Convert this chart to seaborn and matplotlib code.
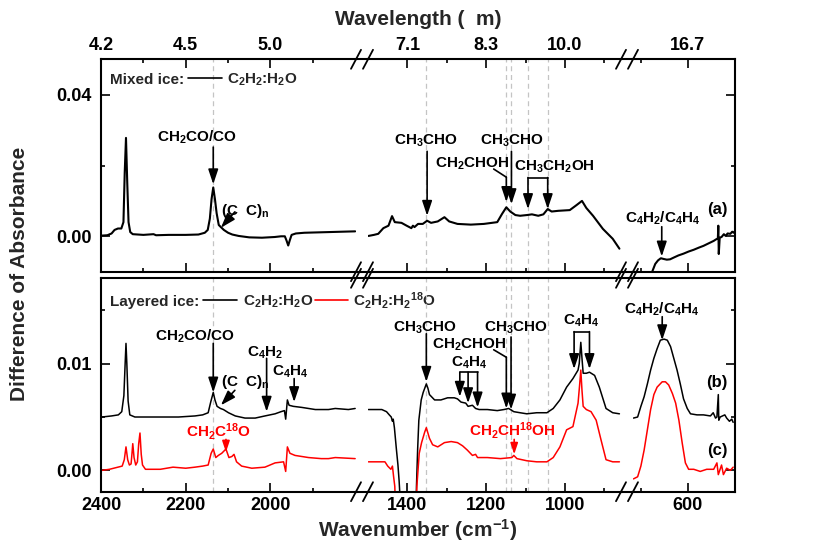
import matplotlib
matplotlib.use("Agg")
import matplotlib.pyplot as plt
import seaborn as sns
from matplotlib.ticker import FixedLocator, FuncFormatter

# ---------------- data: wavenumber (cm-1) and difference of absorbance ----------------
# (a) mixed ice C2H2:H2O  (three x-axis segments)
a_wn_1 = [2398, 2385, 2375, 2368, 2360, 2352, 2347, 2344, 2341, 2338, 2335, 2331, 2325, 2300, 2276, 2270,
          2240, 2200, 2170, 2155, 2148, 2143, 2139, 2135, 2131, 2127, 2122, 2117, 2110, 2100, 2090, 2075,
          2050, 2020, 1990, 1975, 1966, 1962, 1958, 1954, 1950, 1940, 1920, 1890, 1860, 1830, 1800]
a_ab_1 = [0.0002, 0.0003, 0.0008, 0.0018, 0.0022, 0.0022, 0.0040, 0.0180, 0.0278, 0.0150, 0.0040, 0.0012,
          0.0006, 0.0004, 0.0006, 0.0003, 0.0004, 0.0004, 0.0005, 0.0010, 0.0018, 0.0050, 0.0105, 0.0138,
          0.0105, 0.0065, 0.0032, 0.0026, 0.0018, 0.0010, 0.0005, 0.0001, -0.0003, -0.0004, -0.0002, 0.0000,
          0.0000, -0.0012, -0.0026, -0.0010, 0.0004, 0.0008, 0.0010, 0.0011, 0.0012, 0.0013, 0.0014]
a_wn_2 = [1499, 1485, 1474, 1461, 1448, 1439, 1432, 1415, 1402, 1390, 1386, 1382, 1373, 1361, 1350, 1340,
          1323, 1306, 1294, 1273, 1239, 1206, 1172, 1160, 1149, 1139, 1126, 1114, 1097, 1084, 1068, 1055,
          1044, 1034, 1017, 988, 971, 957, 946, 929, 904, 879, 862]
a_ab_2 = [0.0001, 0.0004, 0.0007, 0.0023, 0.0030, 0.0057, 0.0040, 0.0038, 0.0030, 0.0023, 0.0030, 0.0026,
          0.0035, 0.0035, 0.0044, 0.0038, 0.0042, 0.0054, 0.0042, 0.0035, 0.0033, 0.0035, 0.0040, 0.0063,
          0.0082, 0.0070, 0.0060, 0.0058, 0.0060, 0.0062, 0.0058, 0.0062, 0.0077, 0.0070, 0.0072, 0.0074,
          0.0088, 0.0100, 0.0080, 0.0058, 0.0021, -0.0007, -0.0035]
a_wn_3 = [676, 670, 664, 658, 652, 645, 638, 630, 620, 609, 598, 587, 576, 566, 555, 544, 538, 535, 534,
          533, 531, 527, 522, 518, 514, 508, 504, 501, 498]
a_ab_3 = [-0.0098, -0.0078, -0.0068, -0.0062, -0.0064, -0.0066, -0.0065, -0.0060, -0.0054, -0.0049,
          -0.0043, -0.0038, -0.0032, -0.0027, -0.0020, -0.0013, -0.0008, -0.0006, 0.0030, -0.0050, -0.0004,
          -0.0002, 0.0006, 0.0001, 0.0008, 0.0007, 0.0013, 0.0010, 0.0015]

# (b) layered ice C2H2:H2O
b_wn_1 = [2398, 2375, 2359, 2351, 2346, 2343, 2341, 2339, 2336, 2332, 2320, 2296, 2257, 2217, 2178, 2160,
          2147, 2141, 2135, 2131, 2126, 2122, 2118, 2111, 2099, 2083, 2060, 2036, 2013, 1989, 1975, 1967,
          1964, 1960, 1956, 1946, 1926, 1894, 1863, 1847, 1816, 1800]
b_ab_1 = [0.0050, 0.0051, 0.0052, 0.0055, 0.0070, 0.0100, 0.0119, 0.0100, 0.0065, 0.0052, 0.0050, 0.0050,
          0.0050, 0.0050, 0.0051, 0.0052, 0.0054, 0.0064, 0.0073, 0.0066, 0.0060, 0.0059, 0.0058, 0.0057,
          0.0054, 0.0051, 0.0049, 0.0049, 0.0051, 0.0053, 0.0055, 0.0056, 0.0048, 0.0066, 0.0061, 0.0060,
          0.0059, 0.0057, 0.0057, 0.0058, 0.0057, 0.0058]
b_wn_2 = [1499, 1480, 1465, 1453, 1446, 1441, 1438, 1436, 1433, 1428, 1424, 1421, 1418, 1414, 1380, 1377,
          1374, 1371, 1365, 1360, 1356, 1352, 1348, 1344, 1331, 1315, 1298, 1281, 1273, 1264, 1252, 1246,
          1235, 1227, 1218, 1197, 1172, 1155, 1143, 1130, 1114, 1097, 1072, 1046, 1030, 1013, 996, 980,
          967, 964, 960, 957, 954, 946, 938, 925, 913, 896, 879, 862]
b_ab_2 = [0.0057, 0.0057, 0.0057, 0.0055, 0.0052, 0.0050, 0.0046, 0.0048, 0.0040, 0.0020, 0.0005, -0.0010,
          -0.0030, -0.0060, -0.0060, -0.0015, 0.0020, 0.0047, 0.0066, 0.0073, 0.0077, 0.0081, 0.0077, 0.0071,
          0.0066, 0.0066, 0.0068, 0.0068, 0.0067, 0.0064, 0.0063, 0.0060, 0.0061, 0.0058, 0.0057, 0.0057,
          0.0056, 0.0057, 0.0058, 0.0055, 0.0054, 0.0053, 0.0054, 0.0054, 0.0058, 0.0066, 0.0078, 0.0086,
          0.0094, 0.0100, 0.0120, 0.0105, 0.0091, 0.0091, 0.0092, 0.0089, 0.0078, 0.0058, 0.0054, 0.0053]
b_wn_3 = [717, 708, 701, 694, 687, 680, 673, 666, 659, 651, 644, 637, 630, 623, 616, 609, 601, 594, 580,
          566, 551, 545, 540, 537, 534, 533, 530, 520, 516, 510, 505, 502]
b_ab_3 = [0.0049, 0.0050, 0.0060, 0.0069, 0.0081, 0.0094, 0.0105, 0.0114, 0.0122, 0.0123, 0.0122, 0.0116,
          0.0105, 0.0094, 0.0081, 0.0067, 0.0058, 0.0053, 0.0052, 0.0052, 0.0051, 0.0054, 0.0049, 0.0050,
          0.0071, 0.0047, 0.0050, 0.0052, 0.0049, 0.0046, 0.0048, 0.0045]

# (c) layered ice C2H2:H2(18)O
c_wn_1 = [2398, 2380, 2360, 2350, 2345, 2341, 2337, 2333, 2329, 2327, 2325, 2322, 2318, 2314, 2311, 2308,
          2305, 2302, 2295, 2260, 2230, 2200, 2178, 2160, 2147, 2140, 2135, 2129, 2123, 2115, 2105, 2098,
          2091, 2086, 2080, 2068, 2044, 2013, 1989, 1969, 1964, 1960, 1954, 1942, 1910, 1880, 1863, 1847, 1800]
c_ab_1 = [0.0000, 0.0001, 0.0003, 0.0004, 0.0010, 0.0022, 0.0010, 0.0005, 0.0006, 0.0015, 0.0025, 0.0012,
          0.0005, 0.0008, 0.0025, 0.0035, 0.0015, 0.0005, 0.0001, 0.0001, 0.0003, 0.0002, 0.0003, 0.0004,
          0.0005, 0.0016, 0.0020, 0.0012, 0.0014, 0.0016, 0.0020, 0.0012, 0.0013, 0.0015, 0.0008, 0.0004,
          0.0002, 0.0003, 0.0007, 0.0008, -0.0001, 0.0022, 0.0016, 0.0014, 0.0012, 0.0011, 0.0011, 0.0012, 0.0011]
c_wn_2 = [1499, 1457, 1450, 1442, 1438, 1435, 1432, 1428, 1380, 1376, 1370, 1364, 1356, 1352, 1344, 1336,
          1323, 1306, 1289, 1273, 1260, 1248, 1235, 1227, 1222, 1197, 1164, 1135, 1130, 1122, 1097, 1072,
          1046, 1030, 1013, 996, 980, 967, 963, 960, 957, 954, 946, 934, 921, 909, 896, 879, 862]
c_ab_2 = [0.0008, 0.0008, 0.0004, 0.0001, 0.0004, -0.0006, -0.0015, -0.0060, -0.0060, -0.0015, 0.0016,
          0.0026, 0.0036, 0.0040, 0.0030, 0.0024, 0.0022, 0.0026, 0.0027, 0.0026, 0.0023, 0.0019, 0.0014,
          0.0015, 0.0012, 0.0012, 0.0011, 0.0012, 0.0014, 0.0011, 0.0009, 0.0008, 0.0008, 0.0012, 0.0022,
          0.0038, 0.0041, 0.0063, 0.0080, 0.0094, 0.0075, 0.0060, 0.0057, 0.0055, 0.0047, 0.0029, 0.0010,
          0.0008, 0.0008]
c_wn_3 = [717, 708, 701, 694, 687, 680, 673, 666, 655, 648, 641, 633, 626, 619, 612, 605, 598, 587, 573,
          559, 544, 537, 534, 527, 523, 516, 508, 502]
c_ab_3 = [-0.0008, -0.0006, 0.0004, 0.0019, 0.0038, 0.0057, 0.0071, 0.0078, 0.0083, 0.0083, 0.0080, 0.0072,
          0.0063, 0.0047, 0.0026, 0.0007, 0.0001, 0.0001, -0.0001, 0.0001, 0.0001, 0.0007, -0.0004, 0.0005,
          -0.0004, 0.0002, 0.0000, 0.0003]

# marker lines (cm-1)
dash_seg1 = [2135]
dash_seg2 = [1352, 1149, 1137, 1093, 1044]

# axis tick values
x_major = [[2400, 2200, 2000], [1400, 1200, 1000], [600]]
x_minor = [[2300, 2100, 1900], [1300, 1100, 900], [700]]
y_major = [[0.0, 0.04], [0.0, 0.01]]
y_minor = [[0.02], [0.005, 0.015]]

# ---------------- style ----------------
sns.set_theme(style="ticks")
plt.rcParams.update({
    "font.family": ["Liberation Sans", "DejaVu Sans"],
    "font.weight": "bold",
    "mathtext.default": "regular",
    "axes.linewidth": 1.5,
    "axes.edgecolor": "black",
    "xtick.color": "black",
    "ytick.color": "black",
    "xtick.labelsize": 13,
    "ytick.labelsize": 13,
})

W, H = 830, 548
fig = plt.figure(figsize=(W / 100, H / 100), dpi=100)

SEG_PX = [(101, 356), (368, 621), (633, 735)]
PANEL_PX = [(59.3, 271.7), (278.3, 491.7)]
XLIMS = [(2400, 1798), (1500, 858), (718, 498)]
YLIMS = [(-0.01, 0.05), (-0.002, 0.018)]

axs = [[None] * 3 for _ in range(2)]
for p in range(2):
    for s in range(3):
        x0, x1 = SEG_PX[s]
        y0, y1 = PANEL_PX[p]
        ax = fig.add_axes([x0 / W, 1 - y1 / H, (x1 - x0) / W, (y1 - y0) / H])
        ax.set_facecolor("none")
        axs[p][s] = ax

curves = [
    [[(a_wn_1, a_ab_1, "black", 1.5)], [(a_wn_2, a_ab_2, "black", 1.5)], [(a_wn_3, a_ab_3, "black", 1.5)]],
    [[(b_wn_1, b_ab_1, "black", 1.1), (c_wn_1, c_ab_1, "red", 1.1)],
     [(b_wn_2, b_ab_2, "black", 1.1), (c_wn_2, c_ab_2, "red", 1.1)],
     [(b_wn_3, b_ab_3, "black", 1.1), (c_wn_3, c_ab_3, "red", 1.1)]],
]

for p in range(2):
    for s in range(3):
        ax = axs[p][s]
        for dx in (dash_seg1 if s == 0 else dash_seg2 if s == 1 else []):
            ax.axvline(dx, color="#c4c4c4", lw=0.9, ls=(0, (4, 3)), zorder=0)
        for wn, ab, col, lw in curves[p][s]:
            sns.lineplot(x=wn, y=ab, ax=ax, color=col, linewidth=lw, legend=False)
        ax.set_xlim(*XLIMS[s])
        ax.set_ylim(*YLIMS[p])
        ax.set_xlabel("")
        ax.set_ylabel("")
        ax.grid(False)
        for side in ("top", "bottom", "left", "right"):
            ax.spines[side].set_linewidth(1.5)
        ax.spines["top"].set_visible(True)
        ax.spines["bottom"].set_visible(True)
        ax.spines["left"].set_visible(s == 0)
        ax.spines["right"].set_visible(s == 2)
        ax.xaxis.set_major_locator(FixedLocator(x_major[s]))
        ax.xaxis.set_minor_locator(FixedLocator(x_minor[s]))
        ax.yaxis.set_major_locator(FixedLocator(y_major[p]))
        ax.yaxis.set_minor_locator(FixedLocator(y_minor[p]))
        if p == 0:
            ax.xaxis.set_major_formatter(FuncFormatter(lambda v, pos: f"{10000 / v:.1f}"))
        else:
            ax.xaxis.set_major_formatter(FuncFormatter(lambda v, pos: f"{v:.0f}"))
        ax.yaxis.set_major_formatter(FuncFormatter(lambda v, pos: f"{v:.2f}"))
        ax.tick_params(axis="both", which="both", direction="in", width=1.2, pad=4)
        ax.tick_params(axis="both", which="major", length=6.5)
        ax.tick_params(axis="both", which="minor", length=3.2)
        ax.tick_params(axis="x", which="both", bottom=True, top=(p == 0),
                       labelbottom=(p == 1), labeltop=(p == 0))
        ax.tick_params(axis="y", which="both", left=(s == 0), right=(s == 2),
                       labelleft=(s == 0), labelright=False, pad=7)
        for lab in ax.get_xticklabels() + ax.get_yticklabels():
            lab.set_fontweight("bold")


# axis break marks, with the frame line continuing through the break
def slash(ax, xf, yf, wpx, hpx):
    dx, dy = 5 / wpx, 9.5 / hpx
    ax.plot([xf - dx, xf + dx], [yf - dy, yf + dy], transform=ax.transAxes,
            color="black", lw=1.3, clip_on=False, zorder=5)


for p in range(2):
    hpx = PANEL_PX[p][1] - PANEL_PX[p][0]
    for s in range(3):
        wpx = SEG_PX[s][1] - SEG_PX[s][0]
        if s < 2:
            gap = (SEG_PX[s + 1][0] - SEG_PX[s][1]) / wpx
            for yf in (0.0, 1.0):
                axs[p][s].plot([1.0, 1.0 + gap], [yf, yf], transform=axs[p][s].transAxes,
                               color="black", lw=1.5, clip_on=False, solid_capstyle="butt")
        ends = []
        if s < 2:
            ends.append(1.0)
        if s > 0:
            ends.append(0.0)
        for xf in ends:
            for yf in (0.0, 1.0):
                slash(axs[p][s], xf, yf, wpx, hpx)

FS = 11
AST = "-|>,head_length=0.6,head_width=0.2"


def arrow(ax, x0, y0, x1, y1, color="black", ms=15, lw=1.2):
    ax.annotate("", xy=(x1, y1), xytext=(x0, y0), annotation_clip=False,
                arrowprops=dict(arrowstyle=AST, color=color, lw=lw, shrinkA=0, shrinkB=0,
                                mutation_scale=ms))


def label(ax, x, y, s, color="black", ha="center", va="baseline", fs=FS):
    ax.text(x, y, s, color=color, ha=ha, va=va, fontsize=fs, fontweight="bold", clip_on=False)


# ---------------- top panel annotations ----------------
t1, t2, t3 = axs[0]
t1.text(0.035, 0.886, "Mixed ice:", transform=t1.transAxes, ha="left", va="baseline", fontsize=FS, fontweight="bold")
t1.plot([0.341, 0.475], [0.912, 0.912], transform=t1.transAxes, color="black", lw=1.2)
t1.text(0.494, 0.886, "C$_2$H$_2$:H$_2$O", transform=t1.transAxes, ha="left", va="baseline", fontsize=FS, fontweight="bold")

label(t1, 2174, 0.0268, "CH$_2$CO/CO")
arrow(t1, 2135, 0.0252, 2135, 0.0147)
label(t1, 2117, 0.0060, "(C  C)$_n$", ha="left")
arrow(t1, 2084, 0.0069, 2117, 0.0024)

label(t2, 1352, 0.0258, "CH$_3$CHO")
arrow(t2, 1350, 0.0240, 1350, 0.0058)
label(t2, 1235, 0.0193, "CH$_2$CHOH")
t2.plot([1181, 1149], [0.0190, 0.0167], color="black", lw=1.2)
arrow(t2, 1149, 0.0167, 1149, 0.0097)
label(t2, 1134, 0.0258, "CH$_3$CHO")
arrow(t2, 1136, 0.0240, 1136, 0.0091)
label(t2, 1026, 0.0186, "CH$_3$CH$_2$OH")
t2.plot([1094, 1044], [0.0166, 0.0166], color="black", lw=1.2)
arrow(t2, 1094, 0.0166, 1094, 0.0077)
arrow(t2, 1044, 0.0166, 1044, 0.0077)

label(t3, 653, 0.0039, "C$_4$H$_2$/C$_4$H$_4$")
arrow(t3, 656, 0.0027, 656, -0.0057)
label(t3, 537, 0.0077, "(a)", va="center", fs=12)

# ---------------- bottom panel annotations ----------------
b1, b2, b3 = axs[1]
b1.text(0.035, 0.8725, "Layered ice:", transform=b1.transAxes, ha="left", va="baseline", fontsize=FS, fontweight="bold")
b1.plot([0.400, 0.533], [0.898, 0.898], transform=b1.transAxes, color="black", lw=1.2)
b1.text(0.557, 0.8725, "C$_2$H$_2$:H$_2$O", transform=b1.transAxes, ha="left", va="baseline", fontsize=FS, fontweight="bold")
b1.plot([0.839, 0.969], [0.898, 0.898], transform=b1.transAxes, color="red", lw=1.2, clip_on=False)
b1.text(0.988, 0.8725, "C$_2$H$_2$:H$_2$$^{18}$O", transform=b1.transAxes, ha="left", va="baseline",
        fontsize=FS, fontweight="bold", clip_on=False)

label(b1, 2178, 0.0122, "CH$_2$CO/CO")
arrow(b1, 2135, 0.0119, 2135, 0.0073)
label(b1, 2117, 0.0079, "(C  C)$_n$", ha="left")
arrow(b1, 2084, 0.0075, 2117, 0.0061)
label(b1, 2013, 0.0107, "C$_4$H$_2$")
arrow(b1, 2009, 0.0105, 2009, 0.0055)
label(b1, 1954, 0.0089, "C$_4$H$_4$")
arrow(b1, 1944, 0.0086, 1944, 0.0064)
label(b1, 2123, 0.0032, "CH$_2$C$^{18}$O", color="red")
arrow(b1, 2105, 0.0029, 2105, 0.0017, color="red", ms=11)

label(b2, 1356, 0.0130, "CH$_3$CHO")
arrow(b2, 1352, 0.0128, 1352, 0.0083)
label(b2, 1243, 0.0114, "CH$_2$CHOH")
b2.plot([1181, 1149], [0.0113, 0.0106], color="black", lw=1.2)
arrow(b2, 1149, 0.0106, 1149, 0.0058)
label(b2, 1243, 0.0097, "C$_4$H$_4$")
b2.plot([1267, 1222], [0.0092, 0.0092], color="black", lw=1.2)
arrow(b2, 1267, 0.0092, 1267, 0.0069)
arrow(b2, 1246, 0.0092, 1246, 0.0063)
arrow(b2, 1222, 0.0092, 1222, 0.0059)
label(b2, 1126, 0.0130, "CH$_3$CHO")
arrow(b2, 1137, 0.0125, 1137, 0.0057)
label(b2, 958, 0.0137, "C$_4$H$_4$")
b2.plot([977, 938], [0.0130, 0.0130], color="black", lw=1.2)
arrow(b2, 977, 0.0130, 977, 0.0095)
arrow(b2, 938, 0.0130, 938, 0.0095)
label(b2, 1134, 0.0033, "CH$_2$CH$^{18}$OH", color="red")
arrow(b2, 1129, 0.0029, 1129, 0.0015, color="red", ms=11)

label(b3, 656, 0.0147, "C$_4$H$_2$/C$_4$H$_4$")
arrow(b3, 655, 0.0144, 655, 0.0122)
label(b3, 537, 0.0082, "(b)", va="center", fs=12)
label(b3, 537, 0.0019, "(c)", va="center", fs=12)

# ---------------- axis titles ----------------
fig.text(418 / W, 1 - 25 / H, "Wavelength (  m)", ha="center", va="baseline", fontsize=15, fontweight="bold")
fig.text(418 / W, 1 - 537 / H, "Wavenumber (cm$^{-1}$)", ha="center", va="baseline", fontsize=15, fontweight="bold")
fig.text(20 / W, 0.5, "Difference of Absorbance", rotation=90, ha="center", va="center", fontsize=15,
         fontweight="bold")

fig.savefig("out.png", dpi=100)
